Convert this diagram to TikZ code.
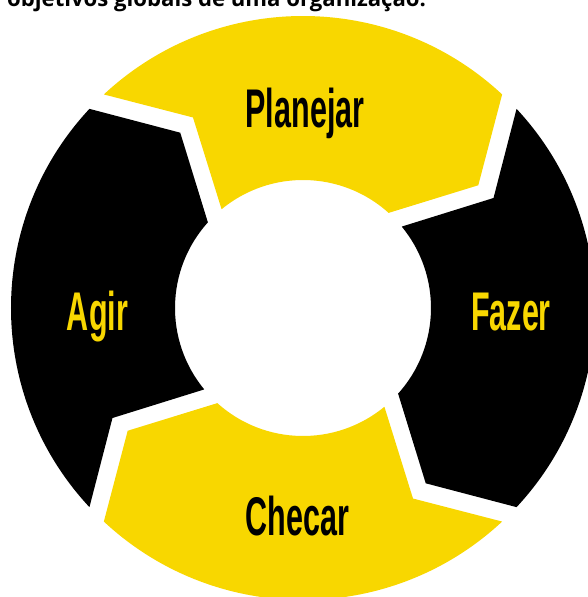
\documentclass[tikz,border=0pt]{standalone}
\usepackage{fontspec}
\usepackage{xcolor}
\newfontfamily\pdcafont[FakeStretch=0.56]{Liberation Sans}
\newfontfamily\capfont{Open Sans}
\definecolor{pdcayellow}{RGB}{248,215,0}

\begin{document}
\begin{tikzpicture}[lbl/.style={font=\pdcafont\bfseries\fontsize{31}{31}\selectfont, anchor=base}]
\useasboundingbox (-6.06,-5.78) rectangle (5.70,6.16);

\node[font=\capfont\bfseries\fontsize{12.6}{13}\selectfont, anchor=base west] (cap) at (-6.04,6.03) {objetivos globais de uma organização.};

\foreach \a/\c in {90/pdcayellow, 0/black, -90/pdcayellow, 180/black}
  \fill[\c] (\a+43:5.84cm) arc[start angle=\a+43, end angle=\a-43, radius=5.84cm] -- (\a-55:4.28cm) -- (\a-42:2.56cm) arc[start angle=\a-42, end angle=\a+39.5, radius=2.56cm] -- (\a+30:4.4cm) -- cycle;

\node[lbl, text=black] (plan) at (0.04,3.62) {Planejar};
\node[lbl, text=pdcayellow] (fazer) at (4.16,-0.44) {Fazer};
\node[lbl, text=black] (checar) at (-0.11,-4.54) {Checar};
\node[lbl, text=pdcayellow] (agir) at (-4.11,-0.44) {Agir};
\end{tikzpicture}
\end{document}
